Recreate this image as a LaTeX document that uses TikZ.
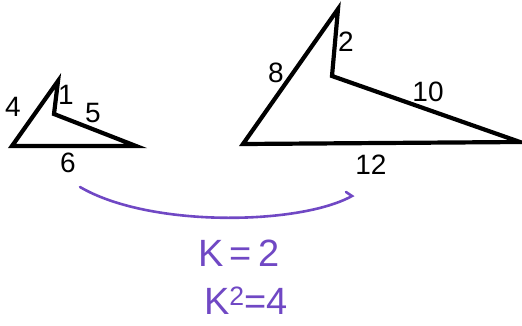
\documentclass[tikz,border=0pt]{standalone}
\usepackage{fontspec}
\setmainfont{Liberation Sans}
\definecolor{pen}{RGB}{112,72,196}
\begin{document}
\begin{tikzpicture}[x=1pt,y=-1pt,
  edge/.style={line width=4.2pt,line join=miter,line cap=round},
  lab/.style={font=\fontsize{28}{28}\selectfont,inner sep=0pt},
  hand/.style={font=\fontsize{38}{38}\selectfont,text=pen,inner sep=0pt}]
\useasboundingbox (0,0) rectangle (522,325);
% small shape
\coordinate (a1) at (12,146);
\coordinate (a2) at (58,81);
\coordinate (a3) at (54,114);
\coordinate (a4) at (136,146);
\draw[edge] (a1) -- (a2) -- (a3) -- (a4) -- cycle;
\node[lab] (l4) at (13,107) {4};
\node[lab] (l1) at (66,95) {1};
\node[lab] (l5) at (93,113) {5};
\node[lab] (l6) at (68,163) {6};
% large shape
\coordinate (b1) at (243,144);
\coordinate (b2) at (338,9);
\coordinate (b3) at (332,76);
\coordinate (b4) at (520,142);
\draw[edge] (b1) -- (b2) -- (b3) -- (b4) -- cycle;
\node[lab] (l8) at (276,73) {8};
\node[lab] (l2) at (346,42) {2};
\node[lab] (l10) at (428,92) {10};
\node[lab] (l12) at (371,165) {12};
% arc
\coordinate (c1) at (80,187);
\coordinate (c2) at (352,196);
\coordinate (c3) at (346,192);
\draw[pen,line width=2.6pt,line cap=round] (c1) .. controls (150,228) and (300,225) .. (c2) -- (c3);
\node[hand] (k1) at (239,253) {K\,=\,2};
\node[hand] (k2) at (246,301) {K\textsuperscript{2}=4};
\end{tikzpicture}
\end{document}
